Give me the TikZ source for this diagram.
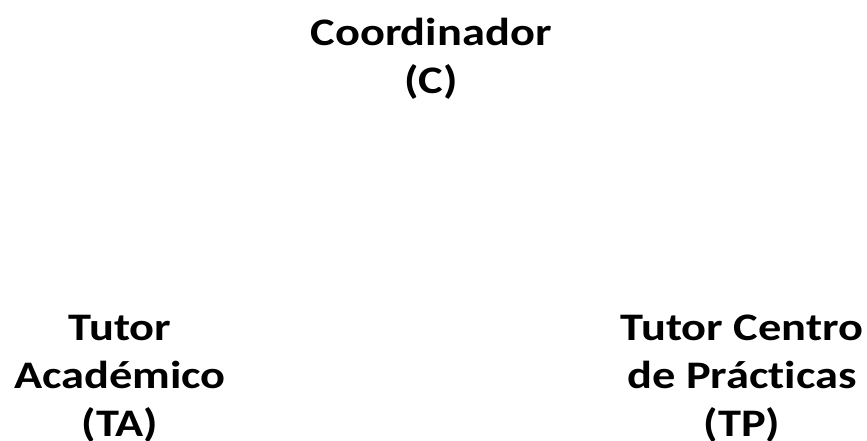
\documentclass[tikz,border=0pt]{standalone}
\usepackage{fontspec}
\setmainfont{Carlito}
\newfontfamily\lblfont[FakeStretch=1.19,Ligatures=NoCommon]{Carlito}
\begin{document}
\begin{tikzpicture}[x=1pt,y=-1pt,
  lbl/.style={align=center, inner sep=0pt, anchor=base,
    font=\lblfont\bfseries\fontsize{39}{48}\selectfont}]
\useasboundingbox (0,0) rectangle (867,441);
\node[lbl] (c) at (431,94) {Coordinador\\(C)};
\node[lbl] (ta) at (120,436) {Tutor\\Académico\\(TA)};
\node[lbl] (tp) at (742,436) {Tutor Centro\\de Prácticas\\(TP)};
\end{tikzpicture}
\end{document}
